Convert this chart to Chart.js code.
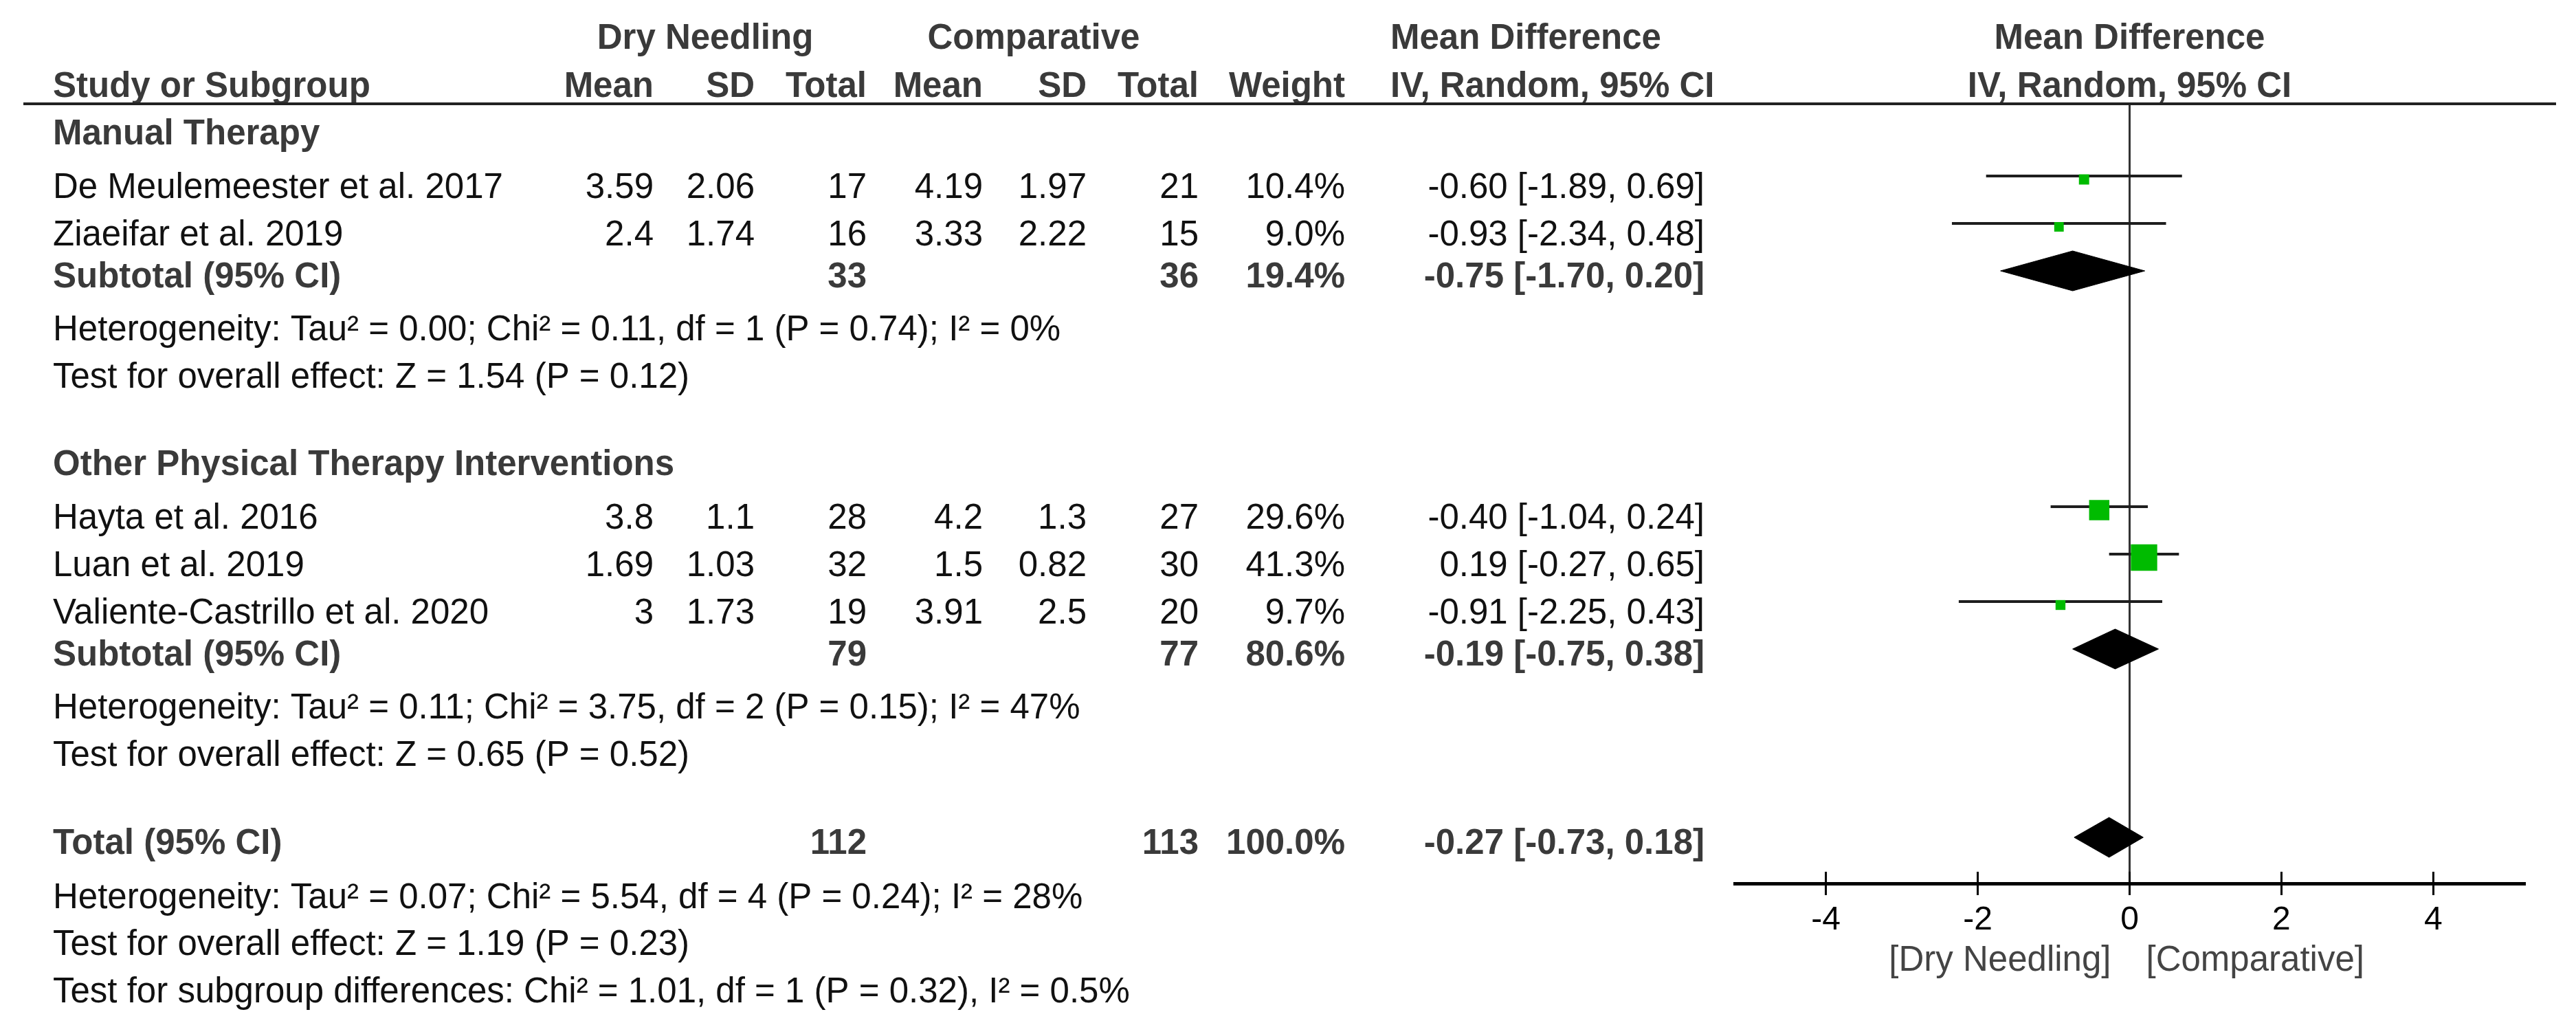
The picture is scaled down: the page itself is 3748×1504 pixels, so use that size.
<!DOCTYPE html>
<html>
<head>
<meta charset="utf-8">
<title>Forest plot - Dry Needling vs Comparative</title>
<script src="https://cdn.jsdelivr.net/npm/chart.js@4.4.1/dist/chart.umd.min.js"></script>
<style>
  html, body { margin: 0; padding: 0; background: #fff; }
  #wrap { position: relative; width: 3748px; height: 1504px; }
</style>
</head>
<body>
<div id="wrap"><canvas id="forest"></canvas></div>
<script>
// study rows
const studies = ['De Meulemeester et al. 2017', 'Ziaeifar et al. 2019', 'Hayta et al. 2016', 'Luan et al. 2019', 'Valiente-Castrillo et al. 2020'];
const studyGroup = [0, 0, 1, 1, 1];
const dnMean = [3.59, 2.4, 3.8, 1.69, 3];
const dnSd = [2.06, 1.74, 1.1, 1.03, 1.73];
const dnTotal = [17, 16, 28, 32, 19];
const compMean = [4.19, 3.33, 4.2, 1.5, 3.91];
const compSd = [1.97, 2.22, 1.3, 0.82, 2.5];
const compTotal = [21, 15, 27, 30, 20];
const weight = [10.4, 9.0, 29.6, 41.3, 9.7];
const md = [-0.60, -0.93, -0.40, 0.19, -0.91];
const mdLo = [-1.89, -2.34, -1.04, -0.27, -2.25];
const mdHi = [0.69, 0.48, 0.24, 0.65, 0.43];

// subgroups
const groupNames = ['Manual Therapy', 'Other Physical Therapy Interventions'];
const groupDnTotal = [33, 79];
const groupCompTotal = [36, 77];
const groupWeight = [19.4, 80.6];
const groupMd = [-0.75, -0.19];
const groupLo = [-1.70, -0.75];
const groupHi = [0.20, 0.38];
const groupHet = [
  'Heterogeneity: Tau² = 0.00; Chi² = 0.11, df = 1 (P = 0.74); I² = 0%',
  'Heterogeneity: Tau² = 0.11; Chi² = 3.75, df = 2 (P = 0.15); I² = 47%'
];
const groupEffect = [
  'Test for overall effect: Z = 1.54 (P = 0.12)',
  'Test for overall effect: Z = 0.65 (P = 0.52)'
];

// overall
const totalN = [112, 113];
const totalWeight = [100.0];
const totalCi = [-0.27, -0.73, 0.18];
const totalNotes = [
  'Heterogeneity: Tau² = 0.07; Chi² = 5.54, df = 4 (P = 0.24); I² = 28%',
  'Test for overall effect: Z = 1.19 (P = 0.23)',
  'Test for subgroup differences: Chi² = 1.01, df = 1 (P = 0.32), I² = 0.5%'
];

const xTicks = [-4, -2, 0, 2, 4];
const favourLabels = ['[Dry Needling]', '[Comparative]'];

// ---- layout (pixels) ----
const W = 3748, H = 1504;
const TOP = 151, BOTTOM = 1285;       // header rule and x axis
const PLOT_LEFT = 2524, PLOT_RIGHT = 3673;
const FONT = '"Liberation Sans", Arial, Helvetica, sans-serif';
const FS = 51;
const NAME_X = 77;
const COL = { dnMean: 951, dnSd: 1098, dnTotal: 1261, cMean: 1430, cSd: 1581, cTotal: 1744, weight: 1957, md: 2480, mdLeft: 2023 };
const GAP = { firstGroup: 41, group: 127, firstStudy: 78, study: 69, subtotal: 61, het: 77, test: 69, total: 128, totalHet: 79, totalTest: 68, subTest: 69 };

// build row list from the data
const rows = [];
let cursor = TOP;
function addRow(kind, gapKey, extra) {
  cursor += GAP[gapKey];
  rows.push(Object.assign({ kind: kind, y: cursor }, extra || {}));
}
groupNames.forEach((g, gi) => {
  addRow('group', gi === 0 ? 'firstGroup' : 'group', { g: gi });
  let first = true;
  studies.forEach((s, i) => {
    if (studyGroup[i] !== gi) return;
    addRow('study', first ? 'firstStudy' : 'study', { i: i });
    first = false;
  });
  addRow('subtotal', 'subtotal', { g: gi });
  addRow('note', 'het', { text: groupHet[gi] });
  addRow('note', 'test', { text: groupEffect[gi] });
});
addRow('total', 'total');
addRow('note', 'totalHet', { text: totalNotes[0] });
addRow('note', 'totalTest', { text: totalNotes[1] });
addRow('note', 'subTest', { text: totalNotes[2] });

const studyRows = rows.filter(r => r.kind === 'study');
const LINE_UP = 14, BOX_UP = 9, DIA_UP = 6, DIA_H = 29;

function diamond(lo, mid, hi, yc) {
  return [
    { x: lo, y: yc }, { x: mid, y: yc - DIA_H }, { x: hi, y: yc }, { x: mid, y: yc + DIA_H }, { x: lo, y: yc }
  ];
}

const datasets = [];
// squares (on top)
datasets.push({
  label: 'studies',
  data: studyRows.map(r => ({ x: md[r.i], y: r.y - BOX_UP })),
  pointStyle: 'rect',
  pointRadius: studyRows.map(r => (7 + 0.76 * weight[r.i]) / Math.SQRT2),
  backgroundColor: '#00bb00',
  borderWidth: 0,
  showLine: false
});
// confidence intervals
studyRows.forEach(r => {
  datasets.push({
    label: 'ci',
    data: [{ x: mdLo[r.i], y: r.y - LINE_UP }, { x: mdHi[r.i], y: r.y - LINE_UP }],
    showLine: true,
    borderColor: '#1e1e1e',
    borderWidth: 4,
    pointRadius: 0
  });
});
// diamonds
rows.forEach(r => {
  let d = null;
  if (r.kind === 'subtotal') d = diamond(groupLo[r.g], groupMd[r.g], groupHi[r.g], r.y - DIA_UP);
  if (r.kind === 'total') d = diamond(totalCi[1], totalCi[0], totalCi[2], r.y - DIA_UP);
  if (!d) return;
  datasets.push({
    label: 'pooled',
    data: d,
    showLine: true,
    fill: 'shape',
    backgroundColor: '#000',
    borderColor: '#000',
    borderWidth: 1,
    pointRadius: 0,
    tension: 0
  });
});
// line of no effect
datasets.push({
  label: 'zero',
  data: [{ x: 0, y: TOP }, { x: 0, y: BOTTOM }],
  showLine: true,
  borderColor: '#333',
  borderWidth: 3,
  pointRadius: 0
});

const fmt2 = v => v.toFixed(2);
const ciText = (m, lo, hi) => fmt2(m) + ' [' + fmt2(lo) + ', ' + fmt2(hi) + ']';

const tablePlugin = {
  id: 'forestTable',
  afterDraw(chart) {
    const { ctx, chartArea } = chart;
    const xs = chart.scales.x, ys = chart.scales.y;
    const zeroPx = xs.getPixelForValue(0);

    function text(str, px, py, align, bold, color) {
      ctx.font = (bold ? 'bold ' : '') + FS + 'px ' + FONT;
      ctx.fillStyle = color || (bold ? '#3a3a3a' : '#111');
      ctx.textAlign = align;
      ctx.textBaseline = 'alphabetic';
      ctx.fillText(str, px, py + 18);
    }

    ctx.save();
    // header
    const h1 = chartArea.top - 98, h2 = chartArea.top - 28;
    text('Dry Needling', 1026, h1, 'center', true);
    text('Comparative', 1504, h1, 'center', true);
    text('Mean Difference', COL.mdLeft, h1, 'left', true);
    text('Mean Difference', zeroPx, h1, 'center', true);
    text('Study or Subgroup', NAME_X, h2, 'left', true);
    text('Mean', COL.dnMean, h2, 'right', true);
    text('SD', COL.dnSd, h2, 'right', true);
    text('Total', COL.dnTotal, h2, 'right', true);
    text('Mean', COL.cMean, h2, 'right', true);
    text('SD', COL.cSd, h2, 'right', true);
    text('Total', COL.cTotal, h2, 'right', true);
    text('Weight', COL.weight, h2, 'right', true);
    text('IV, Random, 95% CI', COL.mdLeft, h2, 'left', true);
    text('IV, Random, 95% CI', zeroPx, h2, 'center', true);

    // header rule
    ctx.strokeStyle = '#222';
    ctx.lineWidth = 4;
    ctx.beginPath();
    ctx.moveTo(34, chartArea.top);
    ctx.lineTo(3719, chartArea.top);
    ctx.stroke();

    rows.forEach(r => {
      const py = ys.getPixelForValue(r.y);
      if (r.kind === 'group') {
        text(groupNames[r.g], NAME_X, py, 'left', true);
      } else if (r.kind === 'study') {
        const i = r.i;
        text(studies[i], NAME_X, py, 'left', false);
        text(String(dnMean[i]), COL.dnMean, py, 'right', false);
        text(String(dnSd[i]), COL.dnSd, py, 'right', false);
        text(String(dnTotal[i]), COL.dnTotal, py, 'right', false);
        text(String(compMean[i]), COL.cMean, py, 'right', false);
        text(String(compSd[i]), COL.cSd, py, 'right', false);
        text(String(compTotal[i]), COL.cTotal, py, 'right', false);
        text(weight[i].toFixed(1) + '%', COL.weight, py, 'right', false);
        text(ciText(md[i], mdLo[i], mdHi[i]), COL.md, py, 'right', false);
      } else if (r.kind === 'subtotal') {
        const g = r.g;
        text('Subtotal (95% CI)', NAME_X, py, 'left', true);
        text(String(groupDnTotal[g]), COL.dnTotal, py, 'right', true);
        text(String(groupCompTotal[g]), COL.cTotal, py, 'right', true);
        text(groupWeight[g].toFixed(1) + '%', COL.weight, py, 'right', true);
        text(ciText(groupMd[g], groupLo[g], groupHi[g]), COL.md, py, 'right', true);
      } else if (r.kind === 'total') {
        text('Total (95% CI)', NAME_X, py, 'left', true);
        text(String(totalN[0]), COL.dnTotal, py, 'right', true);
        text(String(totalN[1]), COL.cTotal, py, 'right', true);
        text(totalWeight[0].toFixed(1) + '%', COL.weight, py, 'right', true);
        text(ciText(totalCi[0], totalCi[1], totalCi[2]), COL.md, py, 'right', true);
      } else {
        text(r.text, NAME_X, py, 'left', false);
      }
    });

    // upper half of the axis ticks
    ctx.strokeStyle = '#000';
    ctx.lineWidth = 3;
    xs.ticks.forEach(t => {
      const px = xs.getPixelForValue(t.value);
      ctx.beginPath();
      ctx.moveTo(px, chartArea.bottom - 17);
      ctx.lineTo(px, chartArea.bottom);
      ctx.stroke();
    });

    // favours labels
    const fy = chartArea.bottom + 109;
    text(favourLabels[0], zeroPx - 27, fy, 'right', false, '#444');
    text(favourLabels[1], zeroPx + 24, fy, 'left', false, '#444');
    ctx.restore();
  }
};

new Chart(document.getElementById('forest'), {
  type: 'scatter',
  data: { datasets: datasets },
  options: {
    responsive: true,
    maintainAspectRatio: false,
    devicePixelRatio: 1,
    animation: false,
    events: [],
    layout: { padding: { left: PLOT_LEFT, right: W - PLOT_RIGHT, top: TOP, bottom: 0 } },
    plugins: { legend: { display: false }, tooltip: { enabled: false } },
    scales: {
      x: {
        type: 'linear',
        min: -5.2,
        max: 5.2,
        afterBuildTicks(scale) { scale.ticks = xTicks.map(v => ({ value: v })); },
        afterFit(scale) { scale.height = H - BOTTOM; },
        border: { display: true, color: '#000', width: 5 },
        grid: { drawOnChartArea: false, drawTicks: true, tickLength: 17, lineWidth: 3, tickWidth: 3, tickColor: '#000' },
        ticks: {
          font: { family: FONT, size: 48 },
          color: '#000',
          padding: 8,
          maxRotation: 0,
          autoSkip: false,
          callback: v => String(v)
        }
      },
      y: {
        type: 'linear',
        display: false,
        reverse: true,
        min: TOP,
        max: BOTTOM
      }
    }
  },
  plugins: [tablePlugin]
});
</script>
</body>
</html>
